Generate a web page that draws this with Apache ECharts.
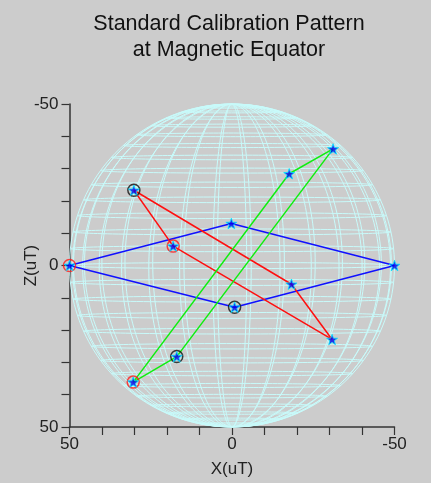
<!DOCTYPE html>
<html>
<head>
<meta charset="utf-8">
<script src="https://cdn.jsdelivr.net/npm/echarts@6/dist/echarts.min.js"></script>
<style>
html,body{margin:0;padding:0;background:#cccccc;}
#chart{width:431px;height:483px;}
</style>
</head>
<body>
<div id="chart"></div>
<script>
// ---- data ----
const titleLines = ['Standard Calibration Pattern', 'at Magnetic Equator'];
const xName = 'X(uT)';
const zName = 'Z(uT)';
const tickLabels = [-50, 0, 50];

// blue rhombus (start -> end)
const blueX = [50, 0.2, -50, -0.8];
const blueZ = [0, -13.0, 0, 12.9];
// red parallelogram (start B ... end A)
const redX = [18.1, -30.8, -18.3, 30.2];
const redZ = [-6.0, 22.9, 5.8, -23.3];
// green parallelogram (start ... end)
const greenX = [30.4, -17.6, -31.1, 17.0];
const greenZ = [36.1, -28.4, -36.1, 28.2];

const sphereRadius = 50;

// ---- helpers ----
function loop(xs, zs) {
  const p = xs.map((x, i) => [x, zs[i]]);
  p.push(p[0]);
  return p;
}
function pts(xs, zs) { return xs.map((x, i) => [x, zs[i]]); }

// sphere wireframe (decoration)
const D = Math.PI / 180;
const az = 6.8 * D, el = 1.1 * D;
function proj(phi, lam) {
  const p = phi * D, l = lam * D;
  const x = sphereRadius * Math.cos(p) * Math.sin(l + az);
  const y = sphereRadius * Math.cos(p) * Math.cos(l + az);
  const z = sphereRadius * Math.sin(p);
  return [x, z * Math.cos(el) + y * Math.sin(el)];
}
const wire = [];
for (let phi = -84; phi <= 84; phi += 6) {
  const c = [];
  for (let t = 0; t <= 360; t += 3) c.push(proj(phi, t));
  wire.push({ coords: c });
}
for (let lam = 0; lam < 360; lam += 12) {
  const c = [];
  for (let phi = -90; phi <= 90; phi += 2) c.push(proj(phi, lam));
  wire.push({ coords: c });
}

const star = 'path://M0,-10 L2.35,-3.24 L9.51,-3.09 L3.8,1.24 L5.88,8.09 L0,4 L-5.88,8.09 L-3.8,1.24 L-9.51,-3.09 L-2.35,-3.24 Z';
const font = 'Liberation Sans, Arial, sans-serif';

const allStars = [].concat(pts(blueX, blueZ), pts(redX, redZ), pts(greenX, greenZ));
const starts = [[blueX[0], blueZ[0]], [redX[0], redZ[0]], [greenX[0], greenZ[0]]];
const ends = [[blueX[3], blueZ[3]], [redX[3], redZ[3]], [greenX[3], greenZ[3]]];

const chart = echarts.init(document.getElementById('chart'), null, { renderer: 'canvas' });
chart.setOption({
  animation: false,
  backgroundColor: '#cccccc',
  title: {
    text: titleLines.join('\n'),
    left: 224,
    textAlign: 'center',
    top: 6,
    textStyle: { fontFamily: font, fontSize: 21.5, fontWeight: 'normal', color: '#111', lineHeight: 26 }
  },
  grid: { left: 69.5, top: 104, width: 325, height: 325.3 },
  xAxis: {
    type: 'value', min: -50, max: 50, interval: 10, inverse: true,
    name: xName, nameLocation: 'middle', nameGap: 34, nameMoveOverlap: false,
    nameTextStyle: { fontFamily: font, fontSize: 17, color: '#222' },
    axisLine: { onZero: false, lineStyle: { color: '#333', width: 1.5 } },
    axisTick: { length: 8, lineStyle: { color: '#333', width: 1.2 } },
    axisLabel: { margin: 9, fontFamily: font, fontSize: 17, color: '#222',
      formatter: v => tickLabels.indexOf(v) >= 0 ? String(v) : '' },
    splitLine: { show: false }
  },
  yAxis: {
    type: 'value', min: -50, max: 50, interval: 10, inverse: true,
    name: zName, nameLocation: 'middle', nameGap: 30, nameRotate: 90, nameMoveOverlap: false,
    nameTextStyle: { fontFamily: font, fontSize: 17, color: '#222' },
    axisLine: { onZero: false, lineStyle: { color: '#333', width: 1.5 } },
    axisTick: { length: 8, lineStyle: { color: '#333', width: 1.2 } },
    axisLabel: { margin: 11, fontFamily: font, fontSize: 17, color: '#222',
      formatter: v => tickLabels.indexOf(v) >= 0 ? String(v) : '' },
    splitLine: { show: false }
  },
  series: [
    { type: 'lines', coordinateSystem: 'cartesian2d', polyline: true, silent: true, z: 1,
      lineStyle: { color: '#c8fafa', width: 1, opacity: 1 }, data: wire },
    { type: 'line', data: loop(blueX, blueZ), symbol: 'none', z: 3,
      lineStyle: { color: '#1010ff', width: 1.5 } },
    { type: 'line', data: loop(redX, redZ), symbol: 'none', z: 3,
      lineStyle: { color: '#ff1010', width: 1.5 } },
    { type: 'line', data: loop(greenX, greenZ), symbol: 'none', z: 3,
      lineStyle: { color: '#10ee10', width: 1.5 } },
    { type: 'scatter', data: starts, symbol: 'circle', symbolSize: 12, z: 4,
      itemStyle: { color: 'rgba(0,0,0,0)', borderColor: '#ff1a1a', borderWidth: 1.5 } },
    { type: 'scatter', data: ends, symbol: 'circle', symbolSize: 12, z: 4,
      itemStyle: { color: 'rgba(0,0,0,0)', borderColor: '#111', borderWidth: 1.5 } },
    { type: 'scatter', data: allStars, symbol: star, symbolKeepAspect: true, symbolSize: 11, z: 5,
      itemStyle: { color: '#0000ee', borderColor: '#00e8ff', borderWidth: 1 } }
  ]
});
</script>
</body>
</html>
